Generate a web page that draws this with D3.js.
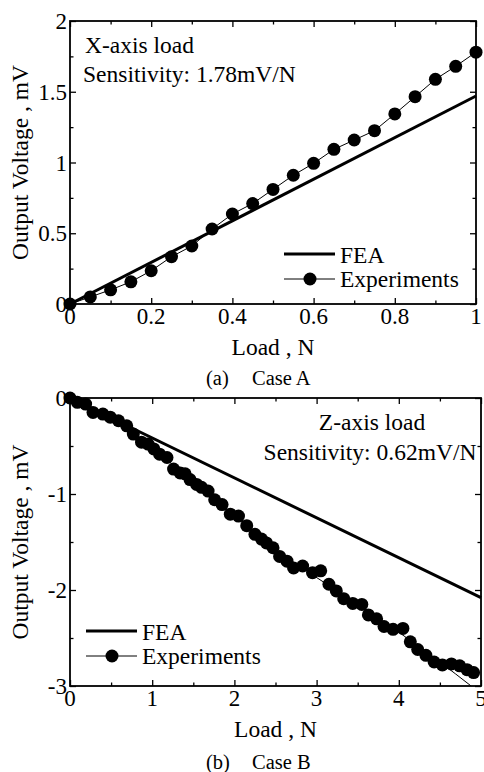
<!DOCTYPE html>
<html><head><meta charset="utf-8">
<script src="https://cdn.jsdelivr.net/npm/d3@7"></script>
<style>
body{margin:0;background:#fff;}
svg{display:block;}
svg text{font-family:"Liberation Serif","DejaVu Serif",serif;}
</style></head>
<body><svg id="c" width="484" height="772"></svg>
<script>
// ---- Data: Case A (X-axis load) ----
const loadA = [0,0.05,0.1,0.15,0.2,0.25,0.3,0.35,0.4,0.45,0.5,0.55,0.6,0.65,0.7,0.75,0.8,0.85,0.9,0.95,1.0];
const expA  = [0,0.05,0.10,0.157,0.235,0.334,0.41,0.53,0.636,0.71,0.81,0.91,0.994,1.093,1.159,1.225,1.343,1.465,1.588,1.68,1.78];
const feaA  = [[0,0],[1,1.47]];
const xTicksA = [0,0.2,0.4,0.6,0.8,1];
const yTicksA = [0,0.5,1,1.5,2];

// ---- Data: Case B (Z-axis load) ----
const loadB = [0,0.09,0.19,0.28,0.40,0.49,0.59,0.69,0.77,0.87,0.95,1.02,1.09,1.18,1.26,1.34,1.40,1.46,1.54,1.60,1.68,1.76,1.85,1.95,2.05,2.15,2.25,2.33,2.39,2.47,2.55,2.64,2.72,2.83,2.95,3.05,3.15,3.24,3.33,3.44,3.55,3.63,3.73,3.82,3.93,4.05,4.14,4.23,4.33,4.43,4.53,4.64,4.74,4.83,4.91];
const expB  = [0,-0.045,-0.063,-0.15,-0.167,-0.2,-0.237,-0.29,-0.376,-0.46,-0.48,-0.53,-0.585,-0.62,-0.74,-0.78,-0.79,-0.85,-0.90,-0.93,-0.97,-1.06,-1.11,-1.21,-1.23,-1.33,-1.42,-1.47,-1.51,-1.56,-1.65,-1.70,-1.77,-1.75,-1.82,-1.80,-1.94,-2.01,-2.09,-2.14,-2.15,-2.26,-2.30,-2.38,-2.41,-2.40,-2.54,-2.62,-2.68,-2.75,-2.78,-2.77,-2.79,-2.83,-2.86];
const fitB  = [[0,0],[0.5,-0.2],[1,-0.52],[1.5,-0.87],[2,-1.22],[2.5,-1.58],[3,-1.87],[3.5,-2.15],[4,-2.44],[4.5,-2.75],[4.88,-3.0]];
const feaB  = [[0,0],[5,-2.08]];
const xTicksB = [0,1,2,3,4,5];
const yTicksB = [-3,-2,-1,0];

const svg = d3.select("#c");
const FS = 23.5;

function panel(o){
  const x = d3.scaleLinear().domain(o.xd).range([o.l,o.r]);
  const y = d3.scaleLinear().domain(o.yd).range([o.b,o.t]);
  const g = svg.append("g");
  const fmt = d=>String(d);
  const ax = [
    [d3.axisBottom(x).tickValues(o.xMinor).tickSize(-3.5).tickFormat(""), o.b],
    [d3.axisBottom(x).tickValues(o.xTicks).tickSize(-6).tickFormat(""), o.b],
    [d3.axisTop(x).tickValues(o.xMinor).tickSize(-3.5).tickFormat(""), o.t],
    [d3.axisTop(x).tickValues(o.xTicks).tickSize(-6).tickFormat(""), o.t]
  ];
  ax.forEach(([a,ty])=>{
    const s=g.append("g").attr("transform",`translate(0,${ty})`).call(a);
    s.select(".domain").remove();
    s.selectAll("line").attr("stroke","#000").attr("stroke-width",1.3);
  });
  const ay = [
    [d3.axisLeft(y).tickValues(o.yMinor).tickSize(-3.5).tickFormat(""), o.l],
    [d3.axisLeft(y).tickValues(o.yTicks).tickSize(-6).tickFormat(""), o.l],
    [d3.axisRight(y).tickValues(o.yMinor).tickSize(-3.5).tickFormat(""), o.r],
    [d3.axisRight(y).tickValues(o.yTicks).tickSize(-6).tickFormat(""), o.r]
  ];
  ay.forEach(([a,tx])=>{
    const s=g.append("g").attr("transform",`translate(${tx},0)`).call(a);
    s.select(".domain").remove();
    s.selectAll("line").attr("stroke","#000").attr("stroke-width",1.3);
  });
  g.append("rect").attr("x",o.l).attr("y",o.t).attr("width",o.r-o.l).attr("height",o.b-o.t)
    .attr("fill","none").attr("stroke","#000").attr("stroke-width",1.8);
  g.selectAll(".xl").data(o.xTicks).join("text").attr("x",d=>x(d)).attr("y",o.b+20)
    .attr("text-anchor","middle").attr("font-size",23).text(fmt);
  g.selectAll(".yl").data(o.yTicks).join("text").attr("x",o.l-3).attr("y",d=>y(d)+8)
    .attr("text-anchor","end").attr("font-size",23).text(fmt);
  g.append("text").attr("x",(o.l+o.r)/2).attr("y",o.b+51).attr("text-anchor","middle")
    .attr("font-size",FS).text("Load , N");
  g.append("text").attr("transform",`translate(28,${(o.t+o.b)/2}) rotate(-90)`).attr("text-anchor","middle")
    .attr("font-size",FS).text("Output Voltage , mV");
  g.append("text").attr("x",206).attr("y",o.b+o.capOff).attr("font-size",20.5).text(o.cap1);
  g.append("text").attr("x",252).attr("y",o.b+o.capOff).attr("font-size",20.5).text(o.cap2);
  const line = d3.line().x(d=>x(d[0])).y(d=>y(d[1]));
  g.append("path").attr("d",line(o.fea)).attr("fill","none").attr("stroke","#000").attr("stroke-width",3);
  const pts = o.xs.map((v,i)=>[v,o.ys[i]]);
  g.append("path").attr("d",line.curve(o.fitCurve)(o.fit||pts)).attr("fill","none").attr("stroke","#000").attr("stroke-width",1);
  g.selectAll(".pt").data(pts).join("circle").attr("cx",d=>x(d[0])).attr("cy",d=>y(d[1]))
    .attr("r",6.5).attr("fill","#000");
  o.notes.forEach(n=>g.append("text").attr("x",n[0]).attr("y",n[1]).attr("text-anchor",n[3]||"start")
    .attr("font-size",FS).text(n[2]));
  const L=o.leg;
  g.append("line").attr("x1",L[0]).attr("x2",L[0]+51).attr("y1",L[1]).attr("y2",L[1]).attr("stroke","#000").attr("stroke-width",3);
  g.append("text").attr("x",L[0]+56).attr("y",L[1]+9).attr("font-size",FS).text("FEA");
  g.append("line").attr("x1",L[0]).attr("x2",L[0]+51).attr("y1",L[1]+25).attr("y2",L[1]+25).attr("stroke","#000").attr("stroke-width",1);
  g.append("circle").attr("cx",L[0]+26).attr("cy",L[1]+25).attr("r",6.5).attr("fill","#000");
  g.append("text").attr("x",L[0]+56).attr("y",L[1]+33).attr("font-size",FS).text("Experiments");
}

panel({xd:[0,1], yd:[0,2], l:70, r:476, t:21, b:304,
  xTicks:xTicksA, xMinor:[0.1,0.3,0.5,0.7,0.9], yTicks:yTicksA, yMinor:[0.25,0.75,1.25,1.75],
  xs:loadA, ys:expA, fea:feaA, fitCurve:d3.curveLinear, capOff:81,
  cap1:"(a)", cap2:"Case A",
  notes:[[85,53,"X-axis load"],[83,82,"Sensitivity: 1.78mV/N"]],
  leg:[284,254]});

panel({xd:[0,5], yd:[-3,0], l:70, r:481, t:398, b:686,
  xTicks:xTicksB, xMinor:[0.5,1.5,2.5,3.5,4.5], yTicks:yTicksB, yMinor:[-2.5,-1.5,-0.5],
  xs:loadB, ys:expB, fea:feaB, fit:fitB, fitCurve:d3.curveMonotoneX, capOff:83,
  cap1:"(b)", cap2:"Case B",
  notes:[[372,430,"Z-axis load","middle"],[370,460,"Sensitivity: 0.62mV/N","middle"]],
  leg:[86,631]});
</script></body></html>
